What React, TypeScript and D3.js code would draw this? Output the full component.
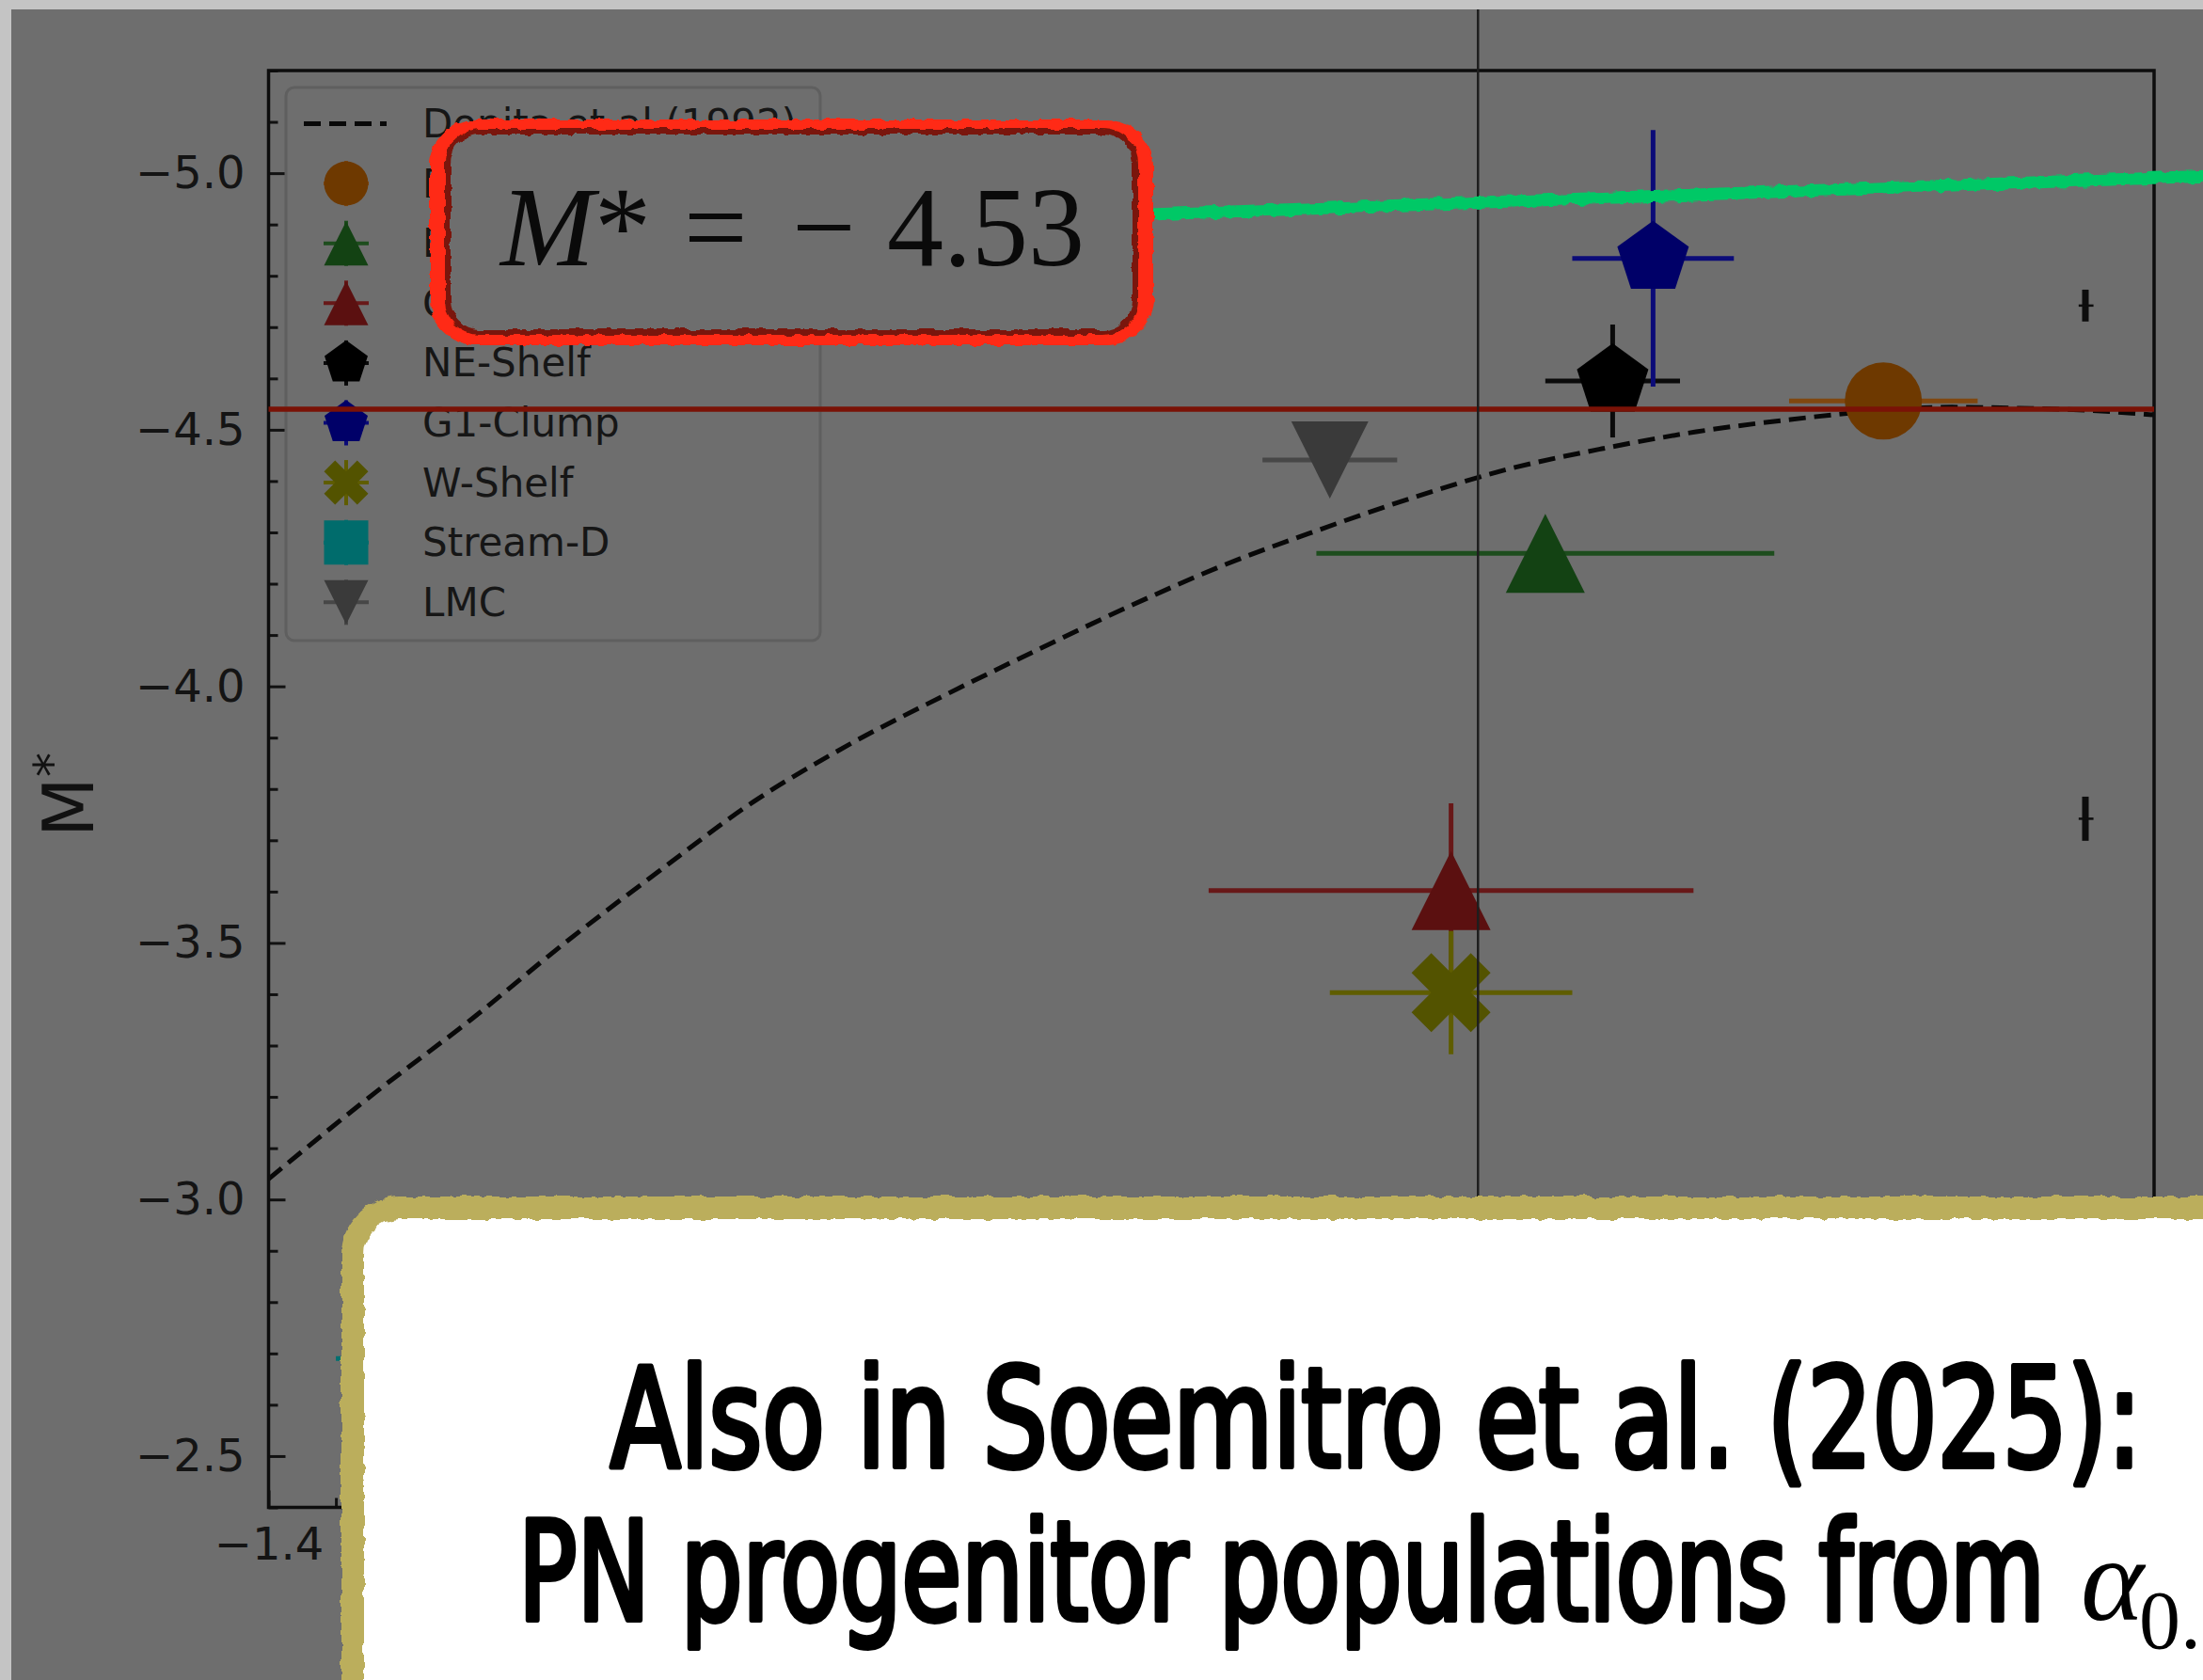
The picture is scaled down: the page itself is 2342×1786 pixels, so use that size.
import { useEffect, useRef } from 'react';
import * as d3 from 'd3';

const W = 2342;
const H = 1786;

// Dopita et al (1992) relation
const curveX = [-1.40, -1.32, -1.25, -1.18, -1.11, -1.04, -0.97, -0.90, -0.83, -0.76, -0.69, -0.62, -0.55, -0.48, -0.41, -0.34, -0.27, -0.20, -0.15, -0.10, -0.05, 0.00];
const curveY = [-3.04, -3.21, -3.35, -3.50, -3.64, -3.775, -3.885, -3.98, -4.07, -4.157, -4.237, -4.305, -4.368, -4.423, -4.463, -4.496, -4.52, -4.538, -4.544, -4.542, -4.538, -4.529];

// PN populations (first three labels are hidden behind the annotation box)
const groups = ['Disc', 'Disc (outer)', 'Centre', 'NE-Shelf', 'G1-Clump', 'W-Shelf', 'Stream-D', 'LMC'];
const groupX = [-0.201, -0.452, -0.522, -0.402, -0.372, -0.522, -1.20, -0.612];
const groupY = [-4.556, -4.259, -3.602, -4.595, -4.834, -3.403, -2.69, -4.441];
const groupXErr = [0.07, 0.17, 0.18, 0.05, 0.06, 0.09, 0.15, 0.05];
const groupYErr = [0.02, 0.03, 0.17, 0.11, 0.25, 0.12, 0.08, 0.03];
const groupShape = ['circle', 'triUp', 'triUp', 'pentagon', 'pentagon', 'xFilled', 'square', 'triDown'];
const groupColor = ['#6e3900', '#134213', '#5b1010', '#000000', '#000068', '#535300', '#006c6c', '#3a3a3a'];
const groupErrColor = ['#80470f', '#1d4d1d', '#681818', '#0a0a0a', '#0b0b78', '#5f5d00', '#007070', '#474747'];
const groupSize = [82, 84, 84, 76, 76, 84, 80, 82];

// typical error bars near the right edge
const typX = [-0.051, -0.051];
const typY = [-4.742, -3.742];
const typYErr = [0.031, 0.043];

const mStar = -4.54;
const refLineX = -0.502;

const yMajor = [-5.0, -4.5, -4.0, -3.5, -3.0, -2.5];
const yMinor = d3.range(-5.2, -2.35, 0.1).map(v => Math.round(v * 10) / 10).filter(v => !yMajor.includes(v));
const xMajor = [-1.4, -1.2, -1.0, -0.8, -0.6, -0.4, -0.2, 0.0];
const xMinor = d3.range(-1.4, 0.001, 0.05).map(v => Math.round(v * 100) / 100).filter(v => !xMajor.some(m => Math.abs(m - v) < 1e-6));
const xLabelled = [-1.4]; // the rest sit under the white box

const shapes: any = {
  circle: { draw(ctx: any, s: number) { ctx.moveTo(s / 2, 0); ctx.arc(0, 0, s / 2, 0, 2 * Math.PI); } },
  square: { draw(ctx: any, s: number) { ctx.rect(-s / 2, -s / 2, s, s); } },
  triUp: { draw(ctx: any, s: number) { const h = s / 2; ctx.moveTo(0, -h); ctx.lineTo(h, h); ctx.lineTo(-h, h); ctx.closePath(); } },
  triDown: { draw(ctx: any, s: number) { const h = s / 2; ctx.moveTo(0, h); ctx.lineTo(h, -h); ctx.lineTo(-h, -h); ctx.closePath(); } },
  pentagon: {
    draw(ctx: any, s: number) {
      const r = s / 1.902;
      for (let i = 0; i < 5; i++) {
        const a = (-90 + 72 * i) * Math.PI / 180;
        if (i === 0) ctx.moveTo(r * Math.cos(a), r * Math.sin(a));
        else ctx.lineTo(r * Math.cos(a), r * Math.sin(a));
      }
      ctx.closePath();
    }
  },
  xFilled: {
    draw(ctx: any, s: number) {
      const p = [[0.25, 0], [0.5, 0.25], [0.25, 0.5], [0, 0.25], [-0.25, 0.5], [-0.5, 0.25], [-0.25, 0], [-0.5, -0.25], [-0.25, -0.5], [0, -0.25], [0.25, -0.5], [0.5, -0.25]];
      p.forEach(([a, b], i) => i === 0 ? ctx.moveTo(a * s, b * s) : ctx.lineTo(a * s, b * s));
      ctx.closePath();
    }
  },
};

const draw = (svgEl: SVGSVGElement) => {
  const svg = d3.select(svgEl);
  svg.selectAll('*').remove();

  const x = d3.scaleLinear().domain([-1.4, 0]).range([285.5, 2290]);
  const y = d3.scaleLinear().domain([-5.2, -2.4]).range([75, 1602.5]);

  const defs = svg.append('defs');
  const rough = defs.append('filter').attr('id', 'rough')
    .attr('filterUnits', 'userSpaceOnUse').attr('x', 0).attr('y', 0).attr('width', W).attr('height', H);
  rough.append('feTurbulence').attr('type', 'fractalNoise').attr('baseFrequency', 0.09).attr('numOctaves', 2).attr('seed', 4).attr('result', 'n');
  rough.append('feDisplacementMap').attr('in', 'SourceGraphic').attr('in2', 'n').attr('scale', 7)
    .attr('xChannelSelector', 'R').attr('yChannelSelector', 'G');

  // page + dimmed slide
  svg.append('rect').attr('width', W).attr('height', H).attr('fill', '#c4c4c4');
  svg.append('rect').attr('x', 12).attr('y', 10).attr('width', W - 12).attr('height', H - 10).attr('fill', '#6e6e6e');

  // Dopita curve
  const line = d3.line<number>().x((_, i) => x(curveX[i])).y(d => y(d)).curve(d3.curveMonotoneX);
  svg.append('path').datum(curveY).attr('d', line).attr('fill', 'none')
    .attr('stroke', '#080808').attr('stroke-width', 5).attr('stroke-dasharray', '18,9');

  // error bars + markers
  groups.forEach((_, i) => {
    const g = svg.append('g');
    g.append('line').attr('x1', x(groupX[i] - groupXErr[i])).attr('x2', x(groupX[i] + groupXErr[i]))
      .attr('y1', y(groupY[i])).attr('y2', y(groupY[i])).attr('stroke', groupErrColor[i]).attr('stroke-width', 5);
    g.append('line').attr('x1', x(groupX[i])).attr('x2', x(groupX[i]))
      .attr('y1', y(groupY[i] - groupYErr[i])).attr('y2', y(groupY[i] + groupYErr[i])).attr('stroke', groupErrColor[i]).attr('stroke-width', 5);
    g.append('path').attr('transform', `translate(${x(groupX[i])},${y(groupY[i])})`)
      .attr('d', d3.symbol(shapes[groupShape[i]], groupSize[i])()).attr('fill', groupColor[i]);
  });

  typX.forEach((tx, i) => {
    svg.append('line').attr('x1', x(tx)).attr('x2', x(tx)).attr('y1', y(typY[i] - typYErr[i])).attr('y2', y(typY[i] + typYErr[i]))
      .attr('stroke', '#0d0d0d').attr('stroke-width', 7);
    svg.append('line').attr('x1', x(tx - 0.005)).attr('x2', x(tx + 0.006)).attr('y1', y(typY[i])).attr('y2', y(typY[i]))
      .attr('stroke', '#0d0d0d').attr('stroke-width', 2.5);
  });

  // axes (ticks pointing inward)
  const fmt = d3.format('.1f');
  const styleAxis = (g: any, withText: boolean) => {
    g.select('.domain').remove();
    g.selectAll('line').attr('stroke', '#111').attr('stroke-width', 3);
    if (withText) g.selectAll('text').attr('font-family', 'DejaVu Sans').attr('font-size', 48).attr('fill', '#141414');
  };
  svg.append('g').attr('transform', `translate(${x(-1.4)},0)`)
    .call(d3.axisLeft(y).tickValues(yMinor).tickSize(-10).tickFormat(() => '')).call((g: any) => styleAxis(g, false));
  svg.append('g').attr('transform', `translate(${x(-1.4)},0)`)
    .call(d3.axisLeft(y).tickValues(yMajor).tickSize(-18).tickPadding(25).tickFormat((d: any) => fmt(d))).call((g: any) => styleAxis(g, true));
  svg.append('g').attr('transform', `translate(0,${y(-2.4)})`)
    .call(d3.axisBottom(x).tickValues(xMinor).tickSize(-10).tickFormat(() => '')).call((g: any) => styleAxis(g, false));
  const gx = svg.append('g').attr('transform', `translate(0,${y(-2.4)})`)
    .call(d3.axisBottom(x).tickValues(xMajor).tickSize(-18).tickPadding(21)
      .tickFormat((d: any) => xLabelled.some(v => Math.abs(v - d) < 1e-6) ? fmt(d) : ''))
    .call((g: any) => styleAxis(g, true));
  gx.selectAll('text').filter(function () { return !(this as SVGTextElement).textContent; }).remove();

  svg.append('rect').attr('x', x(-1.4)).attr('y', y(-5.2)).attr('width', x(0) - x(-1.4)).attr('height', y(-2.4) - y(-5.2))
    .attr('fill', 'none').attr('stroke', '#0d0d0d').attr('stroke-width', 3.5);

  // y label
  const yl = svg.append('text').attr('transform', 'translate(99,845) rotate(-90)').attr('text-anchor', 'middle')
    .attr('font-family', 'DejaVu Sans').attr('font-size', 74).attr('fill', '#111');
  yl.append('tspan').text('M');
  yl.append('tspan').attr('dy', -26).attr('font-size', 52).text('*');

  // legend
  const lg = svg.append('g');
  lg.append('rect').attr('x', 304).attr('y', 93).attr('width', 568).attr('height', 588).attr('rx', 9)
    .attr('fill', '#6e6e6e').attr('stroke', '#5f5f5f').attr('stroke-width', 3);
  const rowY = (i: number) => 131.5 + i * 63.6;
  const labels = ['Dopita et al (1992)', ...groups];
  labels.forEach((lab, i) => {
    const cy = rowY(i);
    if (i === 0) {
      lg.append('line').attr('x1', 323).attr('x2', 411).attr('y1', cy).attr('y2', cy)
        .attr('stroke', '#080808').attr('stroke-width', 5).attr('stroke-dasharray', '18,9');
    } else {
      const k = i - 1;
      lg.append('line').attr('x1', 344).attr('x2', 392).attr('y1', cy).attr('y2', cy).attr('stroke', groupErrColor[k]).attr('stroke-width', 4);
      lg.append('line').attr('x1', 368).attr('x2', 368).attr('y1', cy - 24).attr('y2', cy + 24).attr('stroke', groupErrColor[k]).attr('stroke-width', 4);
      lg.append('path').attr('transform', `translate(368,${cy})`)
        .attr('d', d3.symbol(shapes[groupShape[k]], groupShape[k] === 'pentagon' ? 46 : 47)()).attr('fill', groupColor[k]);
    }
    lg.append('text').attr('x', 449).attr('y', cy + 14.5).attr('font-family', 'DejaVu Sans').attr('font-size', 42)
      .attr('fill', '#161616').text(lab);
  });

  // M* reference line
  svg.append('line').attr('x1', x(-1.4)).attr('x2', x(0)).attr('y1', y(mStar)).attr('y2', y(mStar))
    .attr('stroke', '#7a1206').attr('stroke-width', 5.5);

  // slide annotations
  svg.append('line').attr('x1', x(refLineX)).attr('x2', x(refLineX)).attr('y1', 10).attr('y2', 1290)
    .attr('stroke', '#1e1e1e').attr('stroke-width', 2.5);

  svg.append('line').attr('x1', 1222).attr('y1', 228).attr('x2', W + 10).attr('y2', 187)
    .attr('stroke', '#00c866').attr('stroke-width', 13).attr('filter', 'url(#rough)');

  svg.append('rect').attr('x', 465).attr('y', 135).attr('width', 753).attr('height', 224).attr('rx', 42)
    .attr('fill', '#6e6e6e').attr('stroke', '#ff2b12').attr('stroke-width', 16).attr('filter', 'url(#rough)');
  svg.append('rect').attr('x', 476).attr('y', 140).attr('width', 731).attr('height', 213).attr('rx', 34)
    .attr('fill', 'none').attr('stroke', '#7a1608').attr('stroke-width', 6).attr('filter', 'url(#rough)');

  const eq = svg.append('text').attr('y', 282).attr('font-family', "'Liberation Serif', 'Times New Roman', serif")
    .attr('font-size', 120).attr('fill', '#0a0a0a');
  eq.append('tspan').attr('x', 532).attr('font-style', 'italic').text('M');
  eq.append('tspan').attr('x', 632).text('*');
  eq.append('tspan').attr('x', 727).text('=');
  eq.append('tspan').attr('x', 842).text('\u2212');
  eq.append('tspan').attr('x', 943).text('4.53');

  // white box
  svg.append('rect').attr('x', 375).attr('y', 1284).attr('width', W).attr('height', 700).attr('rx', 50)
    .attr('fill', '#ffffff').attr('stroke', '#bbae5c').attr('stroke-width', 24).attr('filter', 'url(#rough)');

  // hand-written looking lines: condensed to the measured width with a horizontal scale
  const hand = "'Liberation Sans Narrow', 'DejaVu Sans Condensed', 'Liberation Sans', sans-serif";
  const handLine = (txt: string, x0: number, y0: number, width: number) => {
    const t = svg.append('text').attr('x', 0).attr('y', 0).attr('font-family', hand).attr('font-size', 146)
      .attr('fill', '#000').attr('stroke', '#000').attr('stroke-width', 6).attr('stroke-linejoin', 'round')
      .text(txt);
    const len = (t.node() as SVGTextElement).getComputedTextLength() || width;
    t.attr('transform', `translate(${x0 + 3},${y0}) scale(${(width - 6) / len},1)`);
  };
  handLine('Also in Soemitro et al. (2025):', 646, 1559, 1634);
  handLine('PN progenitor populations from', 548, 1722, 1629);

  const al = svg.append('text').attr('font-family', "'Liberation Serif', serif").attr('fill', '#000');
  al.append('tspan').attr('x', 2212).attr('y', 1722).attr('font-style', 'italic').attr('font-size', 128).text('\u03b1');
  al.append('tspan').attr('x', 2274).attr('y', 1752).attr('font-size', 88).text('0');
  al.append('tspan').attr('x', 2318).attr('y', 1752).attr('font-size', 88).text('.');
};

export default function App() {
  const ref = useRef<SVGSVGElement>(null);
  useEffect(() => {
    document.body.style.margin = '0';
    if (ref.current) draw(ref.current);
  }, []);
  return <svg ref={ref} width={W} height={H} style={{ display: 'block' }} />;
}
